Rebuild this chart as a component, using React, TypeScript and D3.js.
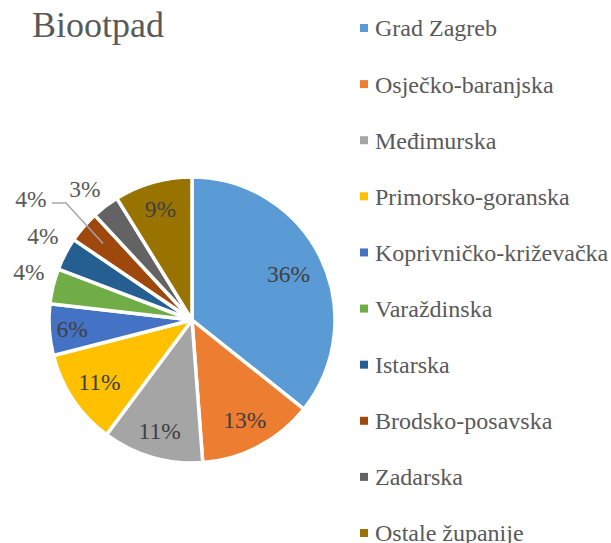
import React from "react";
import * as d3 from "d3";

const categories = [
  "Grad Zagreb",
  "Osječko-baranjska",
  "Međimurska",
  "Primorsko-goranska",
  "Koprivničko-križevačka",
  "Varaždinska",
  "Istarska",
  "Brodsko-posavska",
  "Zadarska",
  "Ostale županije",
];
const values = [35.7, 13.1, 11.4, 10.8, 5.8, 4.0, 3.7, 3.6, 3.1, 8.8];
const labels = ["36%", "13%", "11%", "11%", "6%", "4%", "4%", "4%", "3%", "9%"];
const colors = [
  "#5B9BD5", "#ED7D31", "#A5A5A5", "#FFC000", "#4472C4",
  "#70AD47", "#255E91", "#9E480E", "#636363", "#997300",
];
const outside = [false, false, false, false, false, true, true, true, true, false];

const W = 611, H = 543;
const cx = 192, cy = 320, R = 143;
const FONT = "Liberation Serif";
const labelRadius = [0.75, 0.79, 0.81, 0.78, 0.84, 0, 0, 0, 0, 0.81];

export default function App() {
  const pie = d3.pie<number>().sort(null).value((d) => d);
  const arcs = pie(values);
  const arc = d3.arc<d3.PieArcDatum<number>>().innerRadius(0).outerRadius(R);

  const legendY = d3.scaleLinear().domain([0, categories.length - 1]).range([28, 533]);

  const outPos: Record<number, [number, number]> = {
    5: [29, 272],
    6: [43, 236],
    7: [31, 199],
    8: [85, 189],
  };

  const a7 = arcs[7];
  const [ex, ey] = d3.arc<d3.PieArcDatum<number>>().innerRadius(R * 0.82).outerRadius(R * 0.82).centroid(a7);

  return (
    <svg width={W} height={H} style={{ position: "absolute", left: 0, top: 0, background: "#fff" }}>
      <rect width={W} height={H} fill="#fff" />
      <text x={32} y={37} fontFamily={FONT} fontSize={36} fill="#595959">Biootpad</text>
      <g transform={`translate(${cx},${cy})`}>
        {arcs.map((a, i) => (
          <path key={i} d={arc(a) || ""} fill={colors[i]} stroke="#fff" strokeWidth={3.5} strokeLinejoin="round" />
        ))}
        {arcs.map((a, i) => {
          if (outside[i]) return null;
          const r = R * labelRadius[i];
          const [x, y] = d3.arc<d3.PieArcDatum<number>>().innerRadius(r).outerRadius(r).centroid(a);
          return (
            <text key={"l" + i} x={x} y={y} dy="0.35em" textAnchor="middle" fontFamily={FONT} fontSize={23.5} fill="#404040">
              {labels[i]}
            </text>
          );
        })}
      </g>
      {Object.keys(outPos).map((k) => {
        const i = +k;
        return (
          <text key={"o" + i} x={outPos[i][0]} y={outPos[i][1]} dy="0.35em" textAnchor="middle" fontFamily={FONT} fontSize={23.5} fill="#595959">
            {labels[i]}
          </text>
        );
      })}
      <polyline points={`52,203 66,203 ${cx + ex},${cy + ey}`} fill="none" stroke="#A6A6A6" strokeWidth={1.5} />
      {categories.map((c, i) => (
        <g key={"g" + i} transform={`translate(360,${legendY(i)})`}>
          <rect x={0} y={-4} width={8} height={8} fill={colors[i]} />
          <text x={15} y={0} dy="0.35em" fontFamily={FONT} fontSize={24} fill="#595959">{c}</text>
        </g>
      ))}
    </svg>
  );
}
